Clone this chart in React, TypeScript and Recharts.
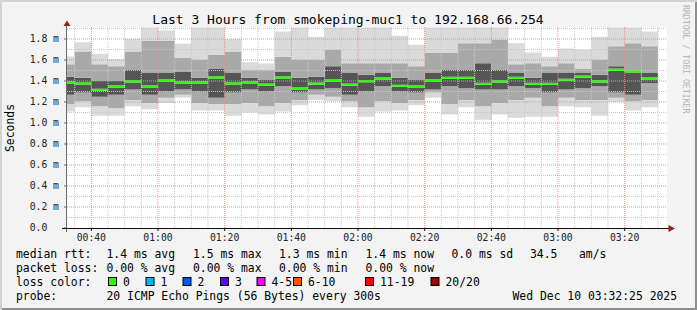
import React from 'react';
import { ComposedChart, Area, XAxis, YAxis, CartesianGrid, ReferenceLine } from 'recharts';

// bin start times, minutes after midnight (5 minute steps)
const binTimes = [30, 35, 40, 45, 50, 55, 60, 65, 70, 75, 80, 85, 90, 95, 100, 105, 110, 115,
  120, 125, 130, 135, 140, 145, 150, 155, 160, 165, 170, 175, 180, 185, 190, 195, 200, 205];

// round trip times in ms
const medianRtt = [1.387, 1.377, 1.317, 1.349, 1.396, 1.349, 1.406, 1.387, 1.387, 1.434, 1.377, 1.387,
  1.365, 1.434, 1.33, 1.375, 1.406, 1.365, 1.397, 1.425, 1.355, 1.349, 1.406, 1.431,
  1.431, 1.374, 1.396, 1.431, 1.374, 1.374, 1.412, 1.441, 1.396, 1.508, 1.491, 1.425];
const maxRtt = [1.634, 1.768, 1.66, 1.61, 1.8, 1.91, 1.88, 1.755, 1.91, 1.91, 1.8, 1.578,
  1.567, 1.87, 1.91, 1.82, 1.91, 1.91, 1.91, 1.91, 1.83, 1.745, 1.91, 1.91,
  1.91, 1.91, 1.91, 1.76, 1.67, 1.63, 1.71, 1.7, 1.82, 1.91, 1.91, 1.87];
const highRtt = [1.56, 1.68, 1.56, 1.54, 1.68, 1.78, 1.78, 1.62, 1.6, 1.65, 1.68, 1.51,
  1.51, 1.63, 1.6, 1.6, 1.7, 1.57, 1.57, 1.57, 1.57, 1.54, 1.67, 1.67,
  1.76, 1.76, 1.79, 1.56, 1.57, 1.54, 1.57, 1.52, 1.6, 1.73, 1.76, 1.73];
const upperCore = [1.44, 1.43, 1.4, 1.4, 1.51, 1.48, 1.48, 1.49, 1.43, 1.52, 1.48, 1.43,
  1.41, 1.49, 1.43, 1.44, 1.54, 1.48, 1.46, 1.48, 1.43, 1.41, 1.48, 1.51,
  1.51, 1.57, 1.51, 1.48, 1.43, 1.48, 1.48, 1.48, 1.46, 1.54, 1.51, 1.48];
const lowerCore = [1.27, 1.29, 1.25, 1.27, 1.32, 1.27, 1.3, 1.32, 1.3, 1.24, 1.29, 1.32,
  1.3, 1.35, 1.29, 1.32, 1.33, 1.27, 1.3, 1.35, 1.3, 1.29, 1.32, 1.35,
  1.33, 1.32, 1.32, 1.35, 1.33, 1.29, 1.32, 1.33, 1.35, 1.29, 1.27, 1.38];
const lowRtt = [1.18, 1.21, 1.16, 1.14, 1.22, 1.19, 1.24, 1.27, 1.19, 1.18, 1.18, 1.19,
  1.16, 1.19, 1.22, 1.27, 1.25, 1.21, 1.15, 1.21, 1.19, 1.22, 1.29, 1.18,
  1.22, 1.16, 1.19, 1.22, 1.24, 1.16, 1.24, 1.22, 1.22, 1.24, 1.21, 1.22];
const minRtt = [1.11, 1.15, 1.07, 1.07, 1.16, 1.13, 1.19, 1.24, 1.12, 1.12, 1.07, 1.1,
  1.08, 1.11, 1.17, 1.22, 1.21, 1.15, 1.06, 1.11, 1.12, 1.17, 1.24, 1.08,
  1.15, 1.03, 1.08, 1.05, 1.06, 1.06, 1.16, 1.15, 1.07, 1.2, 1.12, 1.15];

const xTicks = [40, 60, 80, 100, 120, 140, 160, 180, 200];
const xMinor = [35, 45, 50, 55, 65, 70, 75, 85, 90, 95, 105, 110, 115, 125, 130, 135,
  145, 150, 155, 165, 170, 175, 185, 190, 195, 205, 210];
const yTicks = [0, 0.2, 0.4, 0.6, 0.8, 1.0, 1.2, 1.4, 1.6, 1.8];
const yMinor = [0.1, 0.3, 0.5, 0.7, 0.9, 1.1, 1.3, 1.5, 1.7, 1.9];

const lossLegend = [
  { label: '0', color: '#26ff00' },
  { label: '1', color: '#00b8ff' },
  { label: '2', color: '#0059ff' },
  { label: '3', color: '#5e00ff' },
  { label: '4-5', color: '#ff00ff' },
  { label: '6-10', color: '#ff5500' },
  { label: '11-19', color: '#ff0000' },
  { label: '20/20', color: '#a00000' },
];

const MEDIAN_HALF = 0.01;
const mono = "'DejaVu Sans Mono', monospace";

const rows = binTimes.map((t, i) => ({
  t,
  base: minRtt[i],
  lowLight: lowRtt[i] - minRtt[i],
  lowMid: lowerCore[i] - lowRtt[i],
  lowDark: Math.max(0, medianRtt[i] - MEDIAN_HALF - lowerCore[i]),
  median: MEDIAN_HALF * 2,
  highDark: Math.max(0, upperCore[i] - medianRtt[i] - MEDIAN_HALF),
  highMid: highRtt[i] - upperCore[i],
  highLight: maxRtt[i] - highRtt[i],
}));
// closing point so the last step gets its full width
const data = [...rows, { ...rows[rows.length - 1], t: binTimes[binTimes.length - 1] + 5 }];

const layers = [
  { key: 'base', fill: 'none' },
  { key: 'lowLight', fill: '#dadada' },
  { key: 'lowMid', fill: '#a9a9a9' },
  { key: 'lowDark', fill: '#555555' },
  { key: 'median', fill: '#26ff00' },
  { key: 'highDark', fill: '#555555' },
  { key: 'highMid', fill: '#a9a9a9' },
  { key: 'highLight', fill: '#dadada' },
];

const fmtTime = (m: number) =>
  `${String(Math.floor(m / 60)).padStart(2, '0')}:${String(m % 60).padStart(2, '0')}`;

const YTick = (props: any) => {
  const { x, y, payload } = props;
  const label = payload.value === 0 ? '0.0\u00a0\u00a0' : `${payload.value.toFixed(1)}\u00a0m`;
  return (
    <text x={x} y={y} dy="0.355em" textAnchor="end" fontFamily={mono} fontSize={9.75} fill="#222">
      {label}
    </text>
  );
};

const legendRows = [
  ['median rtt:', [[106.5, '1.4 ms avg'], [193, '1.5 ms max'], [279, '1.3 ms min'], [365.5, '1.4 ms now'], [451.5, '0.0 ms sd'], [530, '34.5'], [579, 'am/s']]],
  ['packet loss:', [[106.5, '0.00 % avg'], [193, '0.00 % max'], [279, '0.00 % min'], [365.5, '0.00 % now']]],
] as [string, [number, string][]][];

const boxX = [108, 145.5, 182.5, 220, 256.5, 293, 365, 430.5];

const minorLine = { stroke: '#c8c8c8', strokeDasharray: '1 1' };
const majorLine = { stroke: '#ee8c8c', strokeDasharray: '1 1' };

const App: React.FC = () => {
  return (
    <div
      style={{
        position: 'absolute', left: 0, top: 0, width: 697, height: 310,
        background: '#f3f3f3',
        boxShadow: 'inset 2px 2px 0 #d2d2d2, inset -2px -2px 0 #8e8e8e',
      }}
    >
      <ComposedChart width={697} height={310} data={data} margin={{ top: 27, right: 30, left: 7, bottom: 62 }}>
        <CartesianGrid fill="#ffffff" horizontal={false} vertical={false} />
        {layers.map((l) => (
          <Area
            key={l.key}
            type="stepAfter"
            dataKey={l.key}
            stackId="smoke"
            stroke="none"
            fill={l.fill}
            fillOpacity={1}
            dot={false}
            activeDot={false}
            isAnimationActive={false}
          />
        ))}
        {xMinor.map((v) => <ReferenceLine key={'xm' + v} x={v} {...minorLine} />)}
        {yMinor.map((v) => <ReferenceLine key={'ym' + v} y={v} {...minorLine} />)}
        {xTicks.map((v) => <ReferenceLine key={'xM' + v} x={v} {...majorLine} />)}
        {yTicks.slice(1).map((v) => <ReferenceLine key={'yM' + v} y={v} {...majorLine} />)}
        <XAxis
          dataKey="t"
          type="number"
          domain={[32.7, 212.7]}
          allowDataOverflow
          ticks={xTicks}
          interval={0}
          tickFormatter={fmtTime}
          height={20}
          axisLine={false}
          tickSize={3}
          tickMargin={3}
          tickLine={{ stroke: '#111' }}
          tick={{ fontFamily: mono, fontSize: 9.75, fill: '#222' }}
        />
        <YAxis
          type="number"
          domain={[0, 1.914]}
          allowDataOverflow
          ticks={yTicks}
          interval={0}
          width={60}
          axisLine={false}
          tickSize={3}
          tickMargin={5}
          tickLine={{ stroke: '#666' }}
          tick={<YTick />}
        />
      </ComposedChart>
      <svg width={697} height={310} style={{ position: 'absolute', left: 0, top: 0, pointerEvents: 'none' }}>
        <line x1={66.5} y1={22} x2={66.5} y2={232} stroke="#6a6a6a" />
        <line x1={62} y1={228.5} x2={669} y2={228.5} stroke="#111" />
        <polygon points="67,20.5 63.5,26 70.5,26" fill="#9e1c1c" />
        <polygon points="675,228.5 668.5,225 668.5,232" fill="#9e1c1c" />
        <text x={348} y={24} textAnchor="middle" fontFamily={mono} fontSize={13} fill="#000">
          Last 3 Hours from smokeping-muc1 to 192.168.66.254
        </text>
        <text x={14} y={128} transform="rotate(-90 14 128)" textAnchor="middle" fontFamily={mono} fontSize={11.4} fill="#000">
          Seconds
        </text>
        <text x={683} y={5} transform="rotate(90 683 5)" fontFamily={mono} fontSize={8.2} fill="#b4b4b4">
          RRDTOOL / TOBI OETIKER
        </text>
        {legendRows.map(([head, parts], r) => (
          <g key={head} fontFamily={mono} fontSize={11.4} fill="#000">
            <text x={16} y={257.7 + r * 14.2}>{head}</text>
            {parts.map(([x, s]) => (
              <text key={s + x} x={x} y={257.7 + r * 14.2}>{s}</text>
            ))}
          </g>
        ))}
        <g fontFamily={mono} fontSize={11.4} fill="#000">
          <text x={16} y={286.1}>loss color:</text>
          {lossLegend.map((l, i) => (
            <g key={l.label}>
              <rect x={boxX[i] + 0.5} y={277.5} width={8} height={8} fill={l.color} stroke="#000" />
              <text x={boxX[i] + 15} y={286.1}>{l.label}</text>
            </g>
          ))}
          <text x={16} y={300.3}>probe:</text>
          <text x={106.5} y={300.3}>20 ICMP Echo Pings (56 Bytes) every 300s</text>
          <text x={512.5} y={300.3}>Wed Dec 10 03:32:25 2025</text>
        </g>
      </svg>
    </div>
  );
};

export default App;
